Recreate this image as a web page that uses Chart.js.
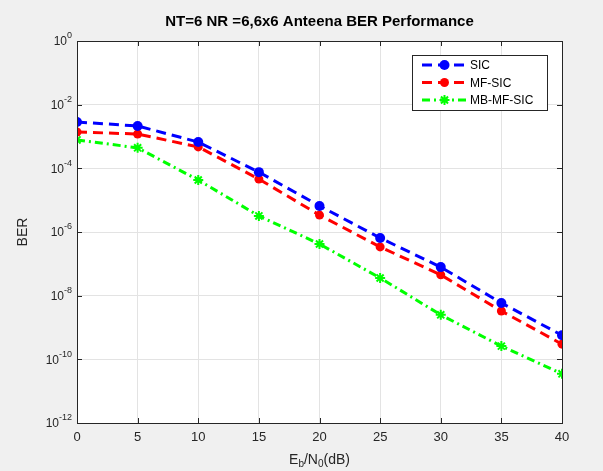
<!DOCTYPE html>
<html>
<head>
<meta charset="utf-8">
<script src="https://cdn.jsdelivr.net/npm/chart.js@4.4.0/dist/chart.umd.min.js"></script>
<style>
  html, body { margin: 0; padding: 0; background: #f0f0f0; }
  #wrap { width: 603px; height: 471px; }
</style>
</head>
<body>
<div id="wrap"><canvas id="myChart" width="603" height="471"></canvas></div>
<script>
// data
const snr = [0, 5, 10, 15, 20, 25, 30, 35, 40];
const berSIC = [2.85e-3, 2.14e-3, 6.7e-4, 7.6e-5, 6.6e-6, 6.5e-7, 7.9e-8, 5.9e-9, 5.7e-10];
const berMFSIC = [1.38e-3, 1.2e-3, 4.7e-4, 4.6e-5, 3.4e-6, 3.4e-7, 4.5e-8, 3.3e-9, 3.0e-10];
const berMBMFSIC = [7.8e-4, 4.4e-4, 4.3e-5, 3.2e-6, 4.2e-7, 3.6e-8, 2.5e-9, 2.6e-10, 3.5e-11];
const yTicks = [1e-12, 1e-10, 1e-8, 1e-6, 1e-4, 1e-2, 1];
const yTickExp = ['-12', '-10', '-8', '-6', '-4', '-2', '0'];
const chartTitle = 'NT=6 NR =6,6x6 Anteena BER Performance';

const FONT = "Arial, 'Liberation Sans', Helvetica, sans-serif";
const AXIS = '#262626';

function pts(vals) {
  return snr.map((x, i) => ({ x: x, y: vals[i] }));
}

// grey figure, white axes, box + inward ticks, title, tick labels
const frame = {
  id: 'frame',
  beforeDraw(chart) {
    const ctx = chart.ctx, a = chart.chartArea;
    ctx.save();
    ctx.fillStyle = '#f0f0f0';
    ctx.fillRect(0, 0, chart.width, chart.height);
    ctx.fillStyle = '#ffffff';
    ctx.fillRect(a.left, a.top, a.right - a.left, a.bottom - a.top);
    ctx.restore();
  },
  afterDatasetsDraw(chart) {
    const ctx = chart.ctx, a = chart.chartArea;
    const xs = chart.scales.x, ys = chart.scales.y;
    const cx = (a.left + a.right) / 2;
    ctx.save();
    ctx.strokeStyle = AXIS;
    ctx.lineWidth = 1;
    ctx.beginPath();
    snr.forEach(v => {
      const px = Math.round(xs.getPixelForValue(v)) + 0.5;
      ctx.moveTo(px, a.top); ctx.lineTo(px, a.top + 5);
      ctx.moveTo(px, a.bottom); ctx.lineTo(px, a.bottom - 5);
    });
    yTicks.forEach(v => {
      const py = Math.round(ys.getPixelForValue(v)) + 0.5;
      ctx.moveTo(a.left, py); ctx.lineTo(a.left + 5, py);
      ctx.moveTo(a.right, py); ctx.lineTo(a.right - 5, py);
    });
    ctx.stroke();
    ctx.strokeRect(Math.round(a.left) + 0.5, Math.round(a.top) + 0.5,
      Math.round(a.right - a.left), Math.round(a.bottom - a.top));

    // title centred over the axes
    ctx.fillStyle = '#000';
    ctx.font = 'bold 15px ' + FONT;
    ctx.textAlign = 'center';
    ctx.textBaseline = 'middle';
    ctx.fillText(chartTitle, cx, 22);

    // y tick labels 10^n
    ctx.fillStyle = AXIS;
    ctx.textAlign = 'left';
    yTicks.forEach((v, i) => {
      const py = ys.getPixelForValue(v);
      ctx.font = '9px ' + FONT;
      const ew = ctx.measureText(yTickExp[i]).width;
      ctx.font = '12px ' + FONT;
      const bw = ctx.measureText('10').width;
      const right = a.left - 5;
      ctx.fillText('10', right - ew - bw, py + 1);
      ctx.font = '9px ' + FONT;
      ctx.fillText(yTickExp[i], right - ew, py - 5);
    });

    // x axis title with subscripts
    const y0 = 460;
    const big = '14px ' + FONT, small = '10px ' + FONT;
    const parts = [['E', big, 0], ['b', small, 4], ['/N', big, 0], ['0', small, 4], ['(dB)', big, 0]];
    let w = 0;
    parts.forEach(p => { ctx.font = p[1]; w += ctx.measureText(p[0]).width; });
    let x = cx - w / 2;
    parts.forEach(p => {
      ctx.font = p[1];
      ctx.fillText(p[0], x, y0 + p[2]);
      x += ctx.measureText(p[0]).width;
    });
    ctx.restore();
  }
};

function marker(ctx, style, x, y, r, color) {
  ctx.save();
  ctx.fillStyle = color;
  ctx.strokeStyle = color;
  ctx.setLineDash([]);
  if (style === 'circle') {
    ctx.beginPath();
    ctx.arc(x, y, r, 0, Math.PI * 2);
    ctx.fill();
  } else {
    ctx.lineWidth = 2;
    ctx.beginPath();
    for (let k = 0; k < 4; k++) {
      const ang = k * Math.PI / 4;
      ctx.moveTo(x - Math.cos(ang) * r, y - Math.sin(ang) * r);
      ctx.lineTo(x + Math.cos(ang) * r, y + Math.sin(ang) * r);
    }
    ctx.stroke();
  }
  ctx.restore();
}

// legend box inside the axes, top right
const boxLegend = {
  id: 'boxLegend',
  afterDraw(chart) {
    const ctx = chart.ctx;
    const bx = 412, by = 55, bw = 135, bh = 55;
    ctx.save();
    ctx.fillStyle = '#ffffff';
    ctx.fillRect(bx, by, bw, bh);
    ctx.strokeStyle = AXIS;
    ctx.lineWidth = 1;
    ctx.strokeRect(bx + 0.5, by + 0.5, bw, bh);
    chart.data.datasets.forEach((ds, i) => {
      const y = 65 + i * 17.5;
      ctx.strokeStyle = ds.borderColor;
      ctx.lineWidth = ds.borderWidth;
      ctx.setLineDash(ds.borderDash);
      ctx.beginPath();
      ctx.moveTo(422, y); ctx.lineTo(467, y);
      ctx.stroke();
      marker(ctx, ds.pointStyle, 444.5, y, ds.pointRadius, ds.borderColor);
      ctx.setLineDash([]);
      ctx.fillStyle = '#000';
      ctx.font = '12px ' + FONT;
      ctx.textBaseline = 'middle';
      ctx.textAlign = 'left';
      ctx.fillText(ds.label, 470, y + 1);
    });
    ctx.restore();
  }
};

const ctx = document.getElementById('myChart').getContext('2d');
const myChart = new Chart(ctx, {
  type: 'line',
  data: {
    datasets: [
      {
        label: 'SIC', data: pts(berSIC),
        borderColor: '#0000ff', backgroundColor: '#0000ff',
        borderWidth: 3, borderDash: [10, 6],
        pointStyle: 'circle', pointRadius: 5, pointBorderWidth: 0
      },
      {
        label: 'MF-SIC', data: pts(berMFSIC),
        borderColor: '#ff0000', backgroundColor: '#ff0000',
        borderWidth: 3, borderDash: [10, 6],
        pointStyle: 'circle', pointRadius: 4.5, pointBorderWidth: 0
      },
      {
        label: 'MB-MF-SIC', data: pts(berMBMFSIC),
        borderColor: '#00ff00', backgroundColor: '#00ff00',
        borderWidth: 3, borderDash: [8, 4, 2, 4],
        pointStyle: 'star', pointRadius: 5, pointBorderWidth: 2
      }
    ]
  },
  options: {
    responsive: false,
    animation: false,
    layout: { padding: { left: 0, right: 41, top: 41, bottom: 0 } },
    plugins: {
      legend: { display: false },
      tooltip: { enabled: false },
      title: { display: false }
    },
    scales: {
      x: {
        type: 'linear', min: 0, max: 40,
        ticks: { stepSize: 5, color: AXIS, padding: 7, font: { family: FONT, size: 13 } },
        grid: { color: '#e3e3e3', drawTicks: false },
        border: { display: false },
        afterFit(scale) { scale.height = 48; }
      },
      y: {
        type: 'logarithmic', min: 1e-12, max: 1,
        afterBuildTicks(scale) { scale.ticks = yTicks.map(v => ({ value: v })); },
        ticks: {
          color: AXIS, padding: 5, font: { family: FONT, size: 12 },
          callback() { return ''; }
        },
        grid: { color: '#e3e3e3', drawTicks: false },
        border: { display: false },
        title: {
          display: true, text: 'BER', color: AXIS,
          font: { family: FONT, size: 14 }, padding: { top: 15, bottom: 0 }
        },
        afterFit(scale) { scale.width = 77; }
      }
    }
  },
  plugins: [frame, boxLegend]
});
</script>
</body>
</html>
